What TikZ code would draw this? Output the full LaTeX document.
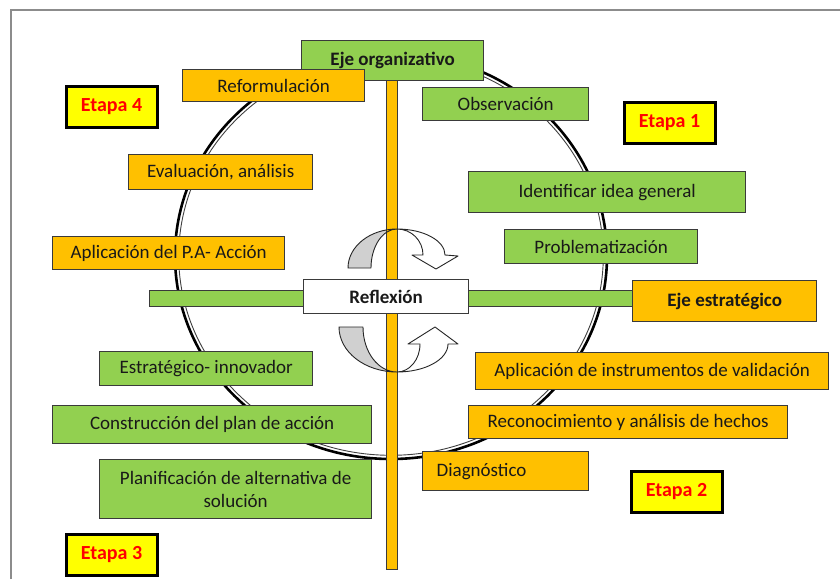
\documentclass[tikz,border=0pt]{standalone}
\usepackage{fontspec}
\setmainfont{Carlito}
\definecolor{cOr}{HTML}{FFC000}
\definecolor{cGr}{HTML}{92D050}
\definecolor{cYe}{HTML}{FFFF00}
\definecolor{cRd}{HTML}{FF0000}
\definecolor{cBd}{HTML}{3A3A3A}
\definecolor{cArr}{HTML}{D0D0D0}
\newcommand\ArrTopGray{(348,268) .. controls (348,246.5) and (369.9,229) .. (397,229) .. controls (382.6,229) and (371,246.5) .. (371,268) -- cycle}
\newcommand\ArrTopWhite{(397,229) .. controls (423.5,229) and (445,240.6) .. (445,255) -- (458,256) -- (436,269) -- (412,255) -- (423,255) .. controls (423,240.6) and (411.4,229) .. (397,229) -- cycle}
\newcommand\ArrBotGray{(339,327) .. controls (339,351.9) and (365,372) .. (397,372) .. controls (378.2,372) and (363,351.9) .. (363,327) -- cycle}
\newcommand\ArrBotWhite{(397,372) .. controls (425.2,372) and (448,359.5) .. (448,344) -- (458,344) -- (435,327) -- (408,344) -- (420,344) .. controls (420,359.5) and (409.7,372) .. (397,372) -- cycle}
\tikzset{
  bx/.style={draw=cBd, line width=1.3pt, inner sep=0pt, anchor=north west,
    font=\fontsize{19}{23}\selectfont, text=black!90},
  ob/.style={bx, fill=cOr},
  gb/.style={bx, fill=cGr},
  bold/.style={font=\bfseries\fontsize{19}{23}\selectfont},
  et/.style={draw=black, line width=3pt, fill=cYe, inner sep=0pt, anchor=north west,
    font=\bfseries\fontsize{20}{23}\selectfont, text=cRd,
    minimum width=91pt, minimum height=41pt},
  bar/.style={draw=cBd, line width=1pt},
  arrline/.style={draw=black!85, line width=0.9pt, line join=round},
}
\begin{document}
\begin{tikzpicture}[x=1pt, y=-1pt]
\useasboundingbox (0,0) rectangle (840,579);
\fill[white] (0,0) rectangle (840,579);
% frame
\draw[gray!90, line width=1.6pt] (11,579) -- (11,10) -- (840,10);
% ring
\draw[black, line width=2.6pt] (391,256) ellipse [x radius=216, y radius=203];
\draw[black!75, line width=0.9pt] (391,256) ellipse [x radius=212.3, y radius=199.3];
% arrows (fill)
\fill[cArr] \ArrTopGray;
\fill[white] \ArrTopWhite;
\fill[cArr] \ArrBotGray;
\fill[white] \ArrBotWhite;
% axes bars
\draw[bar, fill=cGr] (149,290) rectangle (633,306);
\draw[bar, fill=cOr] (386,80) rectangle (397,569);
% arrows (outline)
\draw[arrline] \ArrTopGray;
\draw[arrline] \ArrTopWhite;
\draw[arrline] \ArrBotGray;
\draw[arrline] \ArrBotWhite;
% boxes
\node[gb, bold, minimum width=182pt, minimum height=40pt] (eo) at (301,40) {Eje organizativo};
\node[ob, minimum width=182pt, minimum height=32pt] (ref) at (182,69) {Reformulación};
\node[gb, minimum width=166pt, minimum height=33pt] (obs) at (422,87) {Observación};
\node[et] (e4) at (64.5,84.5) {Etapa 4};
\node[et] (e1) at (622.5,100.5) {Etapa 1};
\node[ob, minimum width=184pt, minimum height=35pt] (eva) at (128,154) {Evaluación, análisis};
\node[gb, minimum width=277pt, minimum height=41pt] (idg) at (468,171) {Identificar idea general};
\node[ob, minimum width=232pt, minimum height=33pt] (apa) at (52,236) {Aplicación del P.A- Acción};
\node[gb, minimum width=193pt, minimum height=34pt] (prob) at (504,229) {Problematización};
\node[bx, bold, fill=white, minimum width=165pt, minimum height=34pt] (refl) at (303,279) {Reflexión};
\node[ob, bold, minimum width=184pt, minimum height=41pt] (ees) at (632,280) {Eje estratégico};
\node[gb, minimum width=213pt, minimum height=34pt] (est) at (99,351) {Estratégico- innovador};
\node[ob, minimum width=353pt, minimum height=37pt] (aiv) at (475,352) {Aplicación de instrumentos de validación};
\node[gb, minimum width=319pt, minimum height=38pt] (con) at (52,405) {Construcción del plan de acción};
\node[ob, minimum width=319pt, minimum height=33pt] (rec) at (468,405) {Reconocimiento y análisis de hechos};
\node[gb, align=center, minimum width=272pt, minimum height=59pt] (pla) at (99,459) {Planificación de alternativa de\\solución};
\node[ob, align=left, text width=138pt, inner xsep=14pt, minimum height=39pt] (dia) at (422,451) {Diagnóstico};
\node[et] (e2) at (629.5,469.5) {Etapa 2};
\node[et] (e3) at (64.5,532.5) {Etapa 3};
\end{tikzpicture}
\end{document}
